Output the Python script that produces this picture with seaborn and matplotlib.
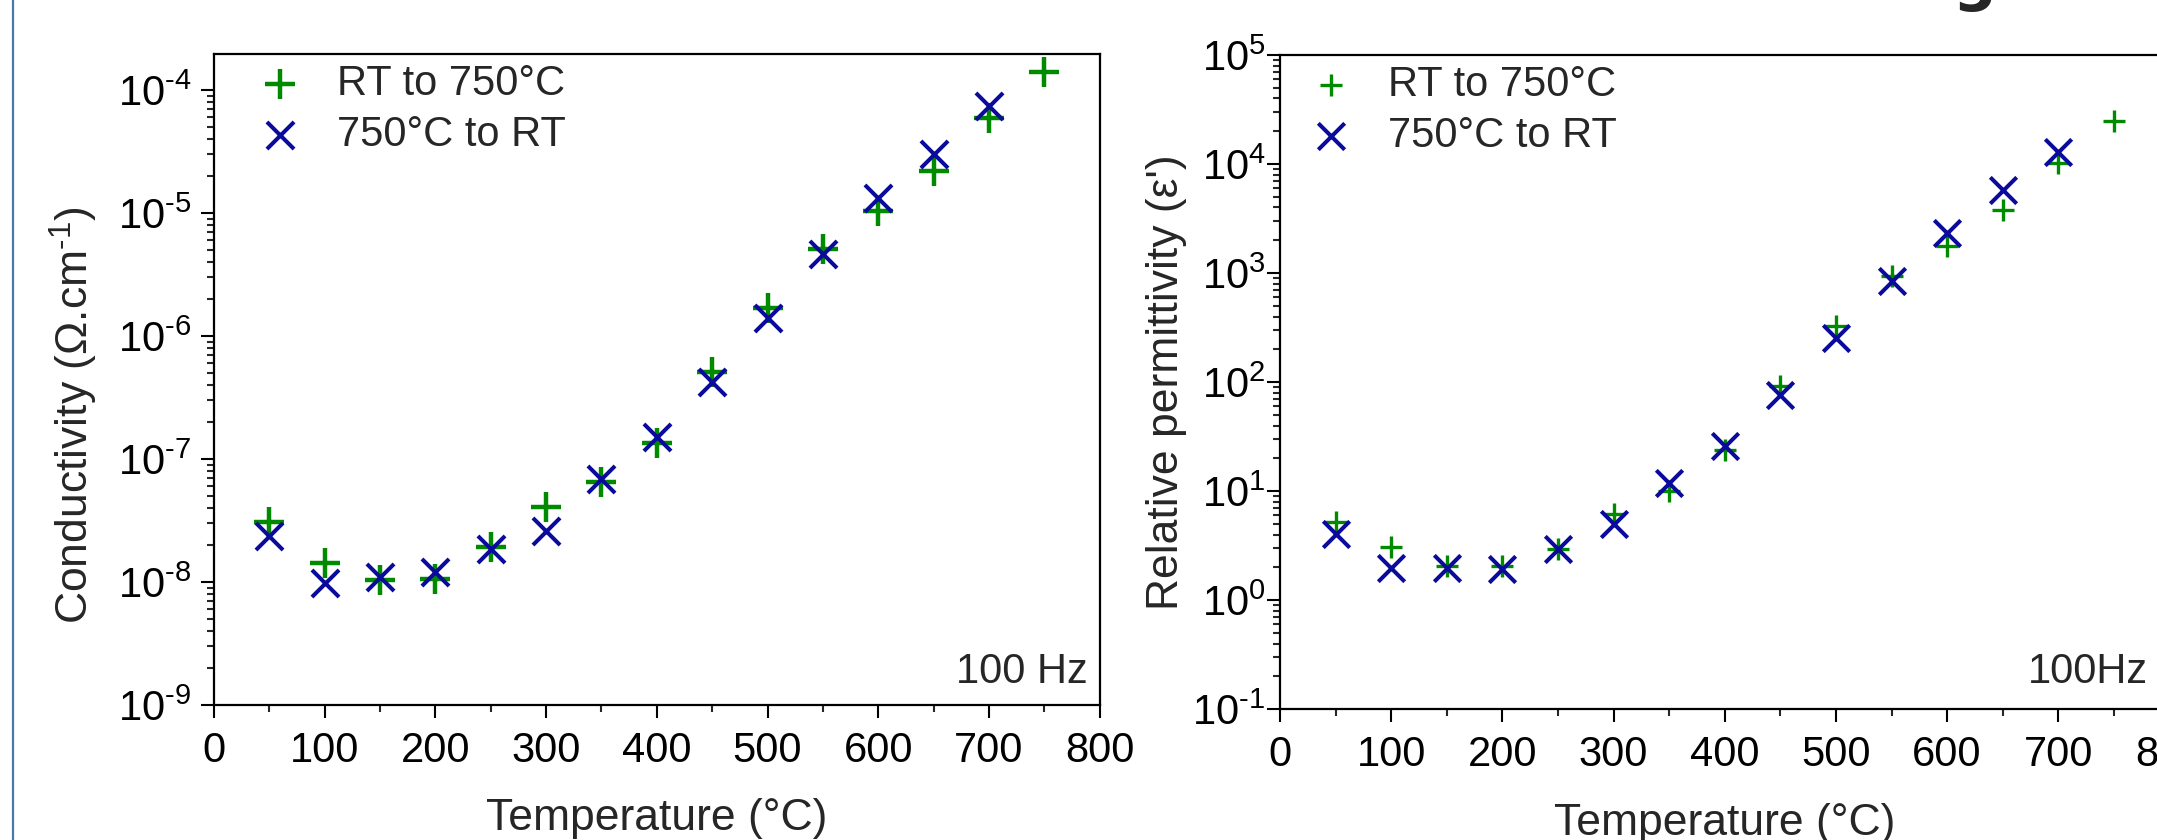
import matplotlib
matplotlib.use("Agg")
import matplotlib.pyplot as plt
import matplotlib.ticker as mticker
from matplotlib.lines import Line2D
import numpy as np
import seaborn as sns
import pandas as pd

# ---------------- data ----------------
temps_up = [50, 100, 150, 200, 250, 300, 350, 400, 450, 500, 550, 600, 650, 700, 750]
temps_down = [50, 100, 150, 200, 250, 300, 350, 400, 450, 500, 550, 600, 650, 700]

cond_up = [3.05e-8, 1.44e-8, 1.04e-8, 1.06e-8, 1.94e-8, 4.1e-8, 6.5e-8, 1.35e-7,
           5.1e-7, 1.7e-6, 5.1e-6, 1.04e-5, 2.2e-5, 5.9e-5, 1.39e-4]
cond_down = [2.38e-8, 9.8e-9, 1.1e-8, 1.2e-8, 1.85e-8, 2.6e-8, 6.9e-8, 1.52e-7,
             4.2e-7, 1.39e-6, 4.65e-6, 1.32e-5, 3.0e-5, 7.4e-5]

perm_up = [5.2, 3.08, 2.05, 2.05, 2.98, 6.2, 10, 24, 93, 324, 948, 1766, 3800, 10200, 25000]
perm_down = [4.04, 1.96, 1.96, 1.95, 2.98, 4.96, 11.9, 26, 76, 252, 850, 2340, 5800, 12800]

label_up = "RT to 750°C"
label_down = "750°C to RT"
freq_left = "100 Hz"
freq_right = "100Hz"

GREEN = "#008a00"
BLUE = "#0a0a9c"

sns.set_style("ticks")
plt.rcParams["font.family"] = ["Liberation Sans", "DejaVu Sans"]
plt.rcParams["mathtext.fontset"] = "custom"
plt.rcParams["mathtext.rm"] = "Liberation Sans"
plt.rcParams["mathtext.default"] = "regular"

fig = plt.figure(figsize=(21.57, 8.4), dpi=100)
ax1 = fig.add_axes([0.0992, 0.1607, 0.4106, 0.7750])
ax2 = fig.add_axes([0.5934, 0.1556, 0.4124, 0.7789])


def pow10_fmt(v, pos):
    if v <= 0:
        return ""
    e = int(round(np.log10(v)))
    if e < 0:
        return "$10^{\\text{-}%d}$" % (-e)
    return "$10^{%d}$" % e


def style_axis(ax, ylim, ypad):
    ax.set_yscale("log")
    ax.set_xlim(0, 800)
    ax.set_ylim(*ylim)
    ax.xaxis.set_major_locator(mticker.MultipleLocator(100))
    ax.xaxis.set_minor_locator(mticker.MultipleLocator(50))
    ax.yaxis.set_major_locator(mticker.LogLocator(base=10, numticks=20))
    ax.yaxis.set_minor_locator(mticker.LogLocator(base=10, subs=range(2, 10), numticks=20))
    ax.yaxis.set_major_formatter(mticker.FuncFormatter(pow10_fmt))
    ax.yaxis.set_minor_formatter(mticker.NullFormatter())
    for s in ax.spines.values():
        s.set_linewidth(1.6)
        s.set_color("black")
        s.set_visible(True)
    ax.tick_params(which="major", direction="out", length=9.4, width=1.5,
                   labelsize=30, colors="black", top=False, right=False)
    ax.tick_params(which="minor", direction="out", length=5, width=1.5,
                   top=False, right=False)
    ax.tick_params(axis="x", which="major", pad=9)
    ax.tick_params(axis="y", which="major", pad=ypad)
    ax.set_xlabel("Temperature (°C)", fontsize=32, labelpad=20)
    ax.grid(False)


# ---- left panel: conductivity ----
df_cu = pd.DataFrame({"T": temps_up, "v": cond_up})
df_cd = pd.DataFrame({"T": temps_down, "v": cond_down})
sns.scatterplot(data=df_cu, x="T", y="v", marker="+", s=21**2, color=GREEN,
                linewidth=3.2, ax=ax1, label=label_up, zorder=3)
sns.scatterplot(data=df_cd, x="T", y="v", marker="x", s=19.5**2, color=BLUE,
                linewidth=2.9, ax=ax1, label=label_down, zorder=4)
style_axis(ax1, (1e-9, 1.96e-4), 7)
ax1.set_ylabel("Conductivity (Ω.cm$^{\\text{-}1}$)", fontsize=32)
ax1.yaxis.set_label_coords(-0.129, 0.445)
ax1.text(0.987, 0.034, freq_left, transform=ax1.transAxes, ha="right",
         va="baseline", fontsize=30)
ax1.legend(loc="upper left", bbox_to_anchor=(0, 1), borderaxespad=0,
           frameon=False, fontsize=30, handlelength=2.65,
           handletextpad=0.05, labelspacing=0.25, borderpad=0.25)

# ---- right panel: permittivity ----
df_pu = pd.DataFrame({"T": temps_up, "v": perm_up})
df_pd = pd.DataFrame({"T": temps_down, "v": perm_down})
sns.scatterplot(data=df_pu, x="T", y="v", marker="+", s=16**2, color=GREEN,
                linewidth=2.4, ax=ax2, label=label_up, zorder=3)
sns.scatterplot(data=df_pd, x="T", y="v", marker="x", s=19**2, color=BLUE,
                linewidth=2.9, ax=ax2, label=label_down, zorder=4)
style_axis(ax2, (0.1, 1e5), 1)
ax2.set_ylabel("Relative permittivity (ε')", fontsize=32)
ax2.yaxis.set_label_coords(-0.1045, 0.5)
ax2.text(0.976, 0.04, freq_right, transform=ax2.transAxes, ha="right",
         va="baseline", fontsize=30)
ax2.legend(loc="upper left", bbox_to_anchor=(0, 1), borderaxespad=0,
           frameon=False, fontsize=30, handlelength=1.95,
           handletextpad=0.4, labelspacing=0.25, borderpad=0.25)

# left blue border of the original figure panel
fig.add_artist(Line2D([13 / 2157, 13 / 2157], [0, 1], transform=fig.transFigure,
                      color="#4a78ad", linewidth=1.6))
# cut-off bold letter at the top edge (only its lower part is visible)
fig.text(1974 / 2157, 1.0 - 12 / 840, "g", fontsize=44, fontweight="bold",
         ha="center", va="bottom", family=["DejaVu Sans"])

fig.savefig("out.png", dpi=100)
